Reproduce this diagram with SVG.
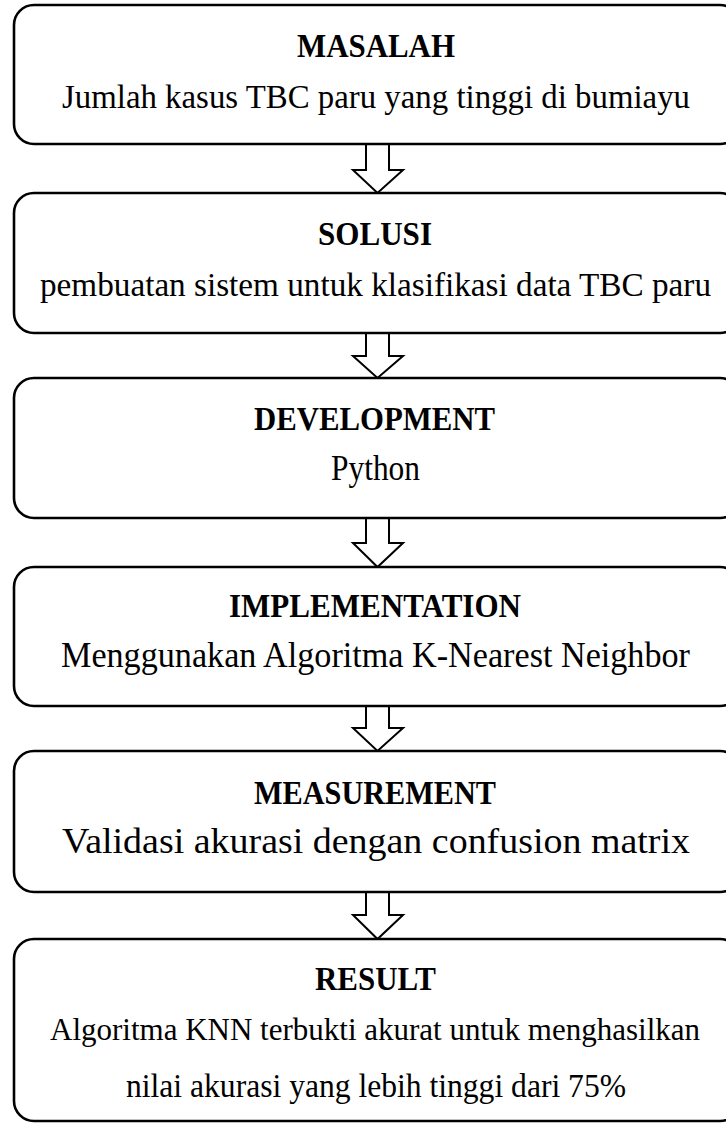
<svg xmlns="http://www.w3.org/2000/svg" width="726" height="1124" viewBox="0 0 726 1124">
<style>
.box{fill:#fff;stroke:#000;stroke-width:2.6}
.arr{fill:#fff;stroke:#000;stroke-width:2;stroke-linejoin:miter}
.t{font-family:"Times New Roman","Liberation Serif",Tinos,"Nimbus Roman",serif;font-size:34px;font-weight:bold;text-anchor:middle;fill:#000}
.d{font-family:"Times New Roman","Liberation Serif",Tinos,"Nimbus Roman",serif;font-size:34px;font-weight:400;font-style:normal;text-anchor:middle;fill:#000}
</style>
<rect width="726" height="1124" fill="#fff"/>
<g id="connectors">
<polygon class="arr" points="366,144 389,144 389,170 403,170 377.5,193 353,170 366,170"/>
<polygon class="arr" points="366,333 389,333 389,356 403,356 377.5,378 353,356 366,356"/>
<polygon class="arr" points="366,518 389,518 389,543 403,543 377.5,567 353,543 366,543"/>
<polygon class="arr" points="366,706 389,706 389,728 403,728 377.5,751 353,728 366,728"/>
<polygon class="arr" points="366,892 389,892 389,915 403,915 377.5,939 353,915 366,915"/>
</g>
<g id="masalah">
<rect class="box" x="14" y="5" width="726" height="139" rx="20"/>
<text class="t" x="376" y="57" textLength="158" lengthAdjust="spacingAndGlyphs">MASALAH</text>
<text class="d" x="376" y="108" textLength="628" lengthAdjust="spacingAndGlyphs">Jumlah kasus TBC paru yang tinggi di bumiayu</text>
</g>
<g id="solusi">
<rect class="box" x="14" y="193" width="726" height="140" rx="20"/>
<text class="t" x="375" y="245" textLength="114" lengthAdjust="spacingAndGlyphs">SOLUSI</text>
<text class="d" x="375.5" y="296" textLength="671" lengthAdjust="spacingAndGlyphs" style="font-size:33px">pembuatan sistem untuk klasifikasi data TBC paru</text>
</g>
<g id="development">
<rect class="box" x="14" y="378" width="726" height="140" rx="20"/>
<text class="t" x="374.5" y="430" textLength="241" lengthAdjust="spacingAndGlyphs">DEVELOPMENT</text>
<text class="d" x="375.5" y="480" textLength="89" lengthAdjust="spacingAndGlyphs" style="font-size:35px">Python</text>
</g>
<g id="implementation">
<rect class="box" x="14" y="567" width="726" height="139" rx="20"/>
<text class="t" x="375" y="617" textLength="292" lengthAdjust="spacingAndGlyphs">IMPLEMENTATION</text>
<text class="d" x="375.5" y="667" textLength="629" lengthAdjust="spacingAndGlyphs" style="font-size:35px">Menggunakan Algoritma K-Nearest Neighbor</text>
</g>
<g id="measurement">
<rect class="box" x="14" y="751" width="726" height="141" rx="20"/>
<text class="t" x="375" y="804" textLength="242" lengthAdjust="spacingAndGlyphs">MEASUREMENT</text>
<text class="d" x="376" y="853" textLength="628" lengthAdjust="spacingAndGlyphs" style="font-size:36px">Validasi akurasi dengan confusion matrix</text>
</g>
<g id="result">
<rect class="box" x="14" y="939" width="726" height="182" rx="20"/>
<text class="t" x="375.5" y="990" textLength="121" lengthAdjust="spacingAndGlyphs">RESULT</text>
<text class="d" x="375" y="1040" textLength="650" lengthAdjust="spacingAndGlyphs" style="font-size:32px">Algoritma KNN terbukti akurat untuk menghasilkan</text>
<text class="d" x="376" y="1097" textLength="500" lengthAdjust="spacingAndGlyphs">nilai akurasi yang lebih tinggi dari 75%</text>
</g>
</svg>
